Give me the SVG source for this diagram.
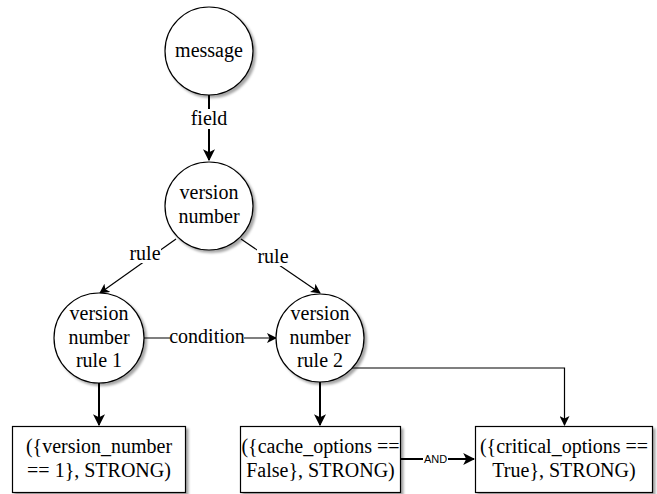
<svg xmlns="http://www.w3.org/2000/svg" width="657" height="494" viewBox="0 0 657 494" font-family="'Liberation Serif', 'DejaVu Serif', serif">
<style>
  .node circle, .node rect { fill: #fff; stroke: #000; stroke-width: 1.2; filter: url(#sh); }
  text { font-family: "Liberation Serif", "DejaVu Serif", serif; font-size: 20px; fill: #000; text-anchor: middle; }
  .thin { stroke: #000; stroke-width: 1.2; fill: none; }
  .thick { stroke: #000; stroke-width: 2; fill: none; }
  .lbl { fill: #fff; stroke: none; }
  text.small { font-family: "Liberation Sans", Arial, sans-serif; font-size: 11px; }
</style>
<defs>
  <filter id="sh" x="-20%" y="-20%" width="150%" height="150%">
    <feDropShadow dx="2.5" dy="2.5" stdDeviation="1" flood-color="#000" flood-opacity="0.35"/>
  </filter>
  <marker id="ah" viewBox="0 0 10 10" refX="9" refY="5" markerWidth="10" markerHeight="10" markerUnits="userSpaceOnUse" orient="auto">
    <path d="M0,0 L10,5 L0,10 L2.5,5 z" fill="#000"/>
  </marker>
  <marker id="ahs" viewBox="0 0 10 10" refX="9" refY="5" markerWidth="6" markerHeight="6" orient="auto">
    <path d="M0,0 L10,5 L0,10 L2.5,5 z" fill="#000"/>
  </marker>
</defs>

<g id="connectors">
  <line class="thick" x1="209" y1="95" x2="209" y2="160" marker-end="url(#ahs)"/>
  <rect class="lbl" x="192" y="109" width="34" height="20"/>
  <text x="209" y="125" font-family="Liberation Serif, serif">field</text>

  <line class="thin" x1="176" y1="239" x2="100" y2="293" marker-end="url(#ah)"/>
  <rect class="lbl" x="129" y="245" width="32" height="18"/>
  <text x="145" y="260" font-family="Liberation Serif, serif">rule</text>

  <line class="thin" x1="241" y1="239" x2="320" y2="293" marker-end="url(#ah)"/>
  <rect class="lbl" x="257" y="248" width="32" height="18"/>
  <text x="273" y="263" font-family="Liberation Serif, serif">rule</text>

  <line class="thin" x1="144" y1="338" x2="276" y2="338" marker-end="url(#ah)"/>
  <rect class="lbl" x="170" y="328" width="74" height="20"/>
  <text x="207" y="343" font-family="Liberation Serif, serif">condition</text>

  <line class="thick" x1="99" y1="382" x2="99" y2="425" marker-end="url(#ahs)"/>
  <line class="thick" x1="320" y1="382" x2="320" y2="425" marker-end="url(#ahs)"/>

  <polyline class="thin" points="352,368 564.5,368 564.5,425" marker-end="url(#ah)"/>

  <line class="thick" x1="400" y1="459" x2="474" y2="459" marker-end="url(#ahs)"/>
  <rect class="lbl" x="423" y="453" width="25" height="12"/>
  <text class="small" x="435.5" y="463">AND</text>
</g>

<g id="message" class="node">
  <circle cx="209" cy="51" r="44"/>
  <text x="209" y="57">message</text>
</g>

<g id="version-number" class="node">
  <circle cx="209" cy="206" r="44"/>
  <text x="209" y="199">version</text>
  <text x="209" y="223">number</text>
</g>

<g id="rule1" class="node">
  <circle cx="99" cy="338" r="45"/>
  <text x="99" y="320">version</text>
  <text x="99" y="344">number</text>
  <text x="99" y="367">rule 1</text>
</g>

<g id="rule2" class="node">
  <circle cx="320" cy="338" r="44"/>
  <text x="320" y="320">version</text>
  <text x="320" y="344">number</text>
  <text x="320" y="367">rule 2</text>
</g>

<g id="box1" class="node">
  <rect x="12.5" y="426.5" width="173" height="66"/>
  <text x="99" y="453">({version_number</text>
  <text x="99" y="477">== 1}, STRONG)</text>
</g>

<g id="box2" class="node">
  <rect x="240.5" y="426.5" width="160" height="66"/>
  <text x="320.5" y="453">({cache_options ==</text>
  <text x="320.5" y="477">False}, STRONG)</text>
</g>

<g id="box3" class="node">
  <rect x="475.5" y="426.5" width="177" height="66"/>
  <text x="564" y="453">({critical_options ==</text>
  <text x="564" y="477">True}, STRONG)</text>
</g>
</svg>
